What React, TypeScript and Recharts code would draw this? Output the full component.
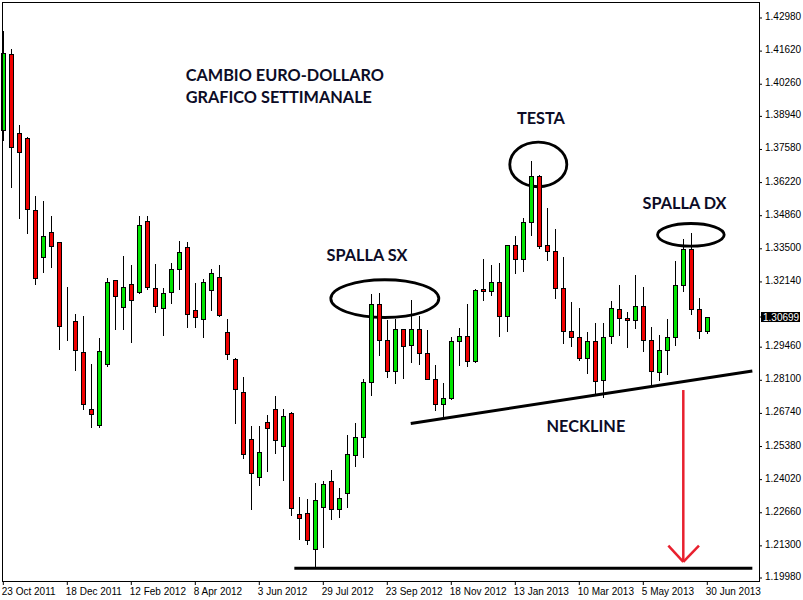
import { Bar, ComposedChart, ReferenceArea, ReferenceDot, ReferenceLine, XAxis, YAxis } from "recharts";

// weekly EUR/USD candles, 23 Oct 2011 -> 30 Jun 2013
const open = [
  1.3838, 1.415, 1.3826, 1.3805, 1.3509, 1.3316, 1.3419, 1.3378, 1.3037, 1.3054,
  1.2926, 1.2692, 1.2626, 1.2877, 1.3222, 1.3111, 1.3205, 1.3173, 1.3464, 1.3189,
  1.3107, 1.3173, 1.3267, 1.3357, 1.3099, 1.3062, 1.3181, 1.3234, 1.3008, 1.2897,
  1.2762, 1.2569, 1.2413, 1.2639, 1.2692, 1.254, 1.2676, 1.2261, 1.2265, 1.2117,
  1.229, 1.2396, 1.2281, 1.2347, 1.2503, 1.2577, 1.2803, 1.3123, 1.2976, 1.2848,
  1.3021, 1.2955, 1.3021, 1.2922, 1.2815, 1.2713, 1.2737, 1.2971, 1.2992, 1.2889,
  1.3185, 1.3177, 1.3214, 1.3074, 1.3366, 1.3308, 1.346, 1.3649, 1.3366, 1.3341,
  1.3189, 1.3012, 1.2988, 1.2902, 1.2971, 1.2811, 1.2992, 1.3103, 1.3066, 1.3058,
  1.3115, 1.2976, 1.2844, 1.2934, 1.2988, 1.3201, 1.3349, 1.3103, 1.3012,
];
const high = [
  1.4245, 1.4171, 1.3859, 1.3809, 1.3567, 1.3546, 1.3485, 1.3378, 1.3193, 1.3082,
  1.3074, 1.2877, 1.2984, 1.323, 1.3222, 1.3321, 1.3284, 1.3485, 1.3485, 1.3288,
  1.3189, 1.3292, 1.3382, 1.3378, 1.321, 1.3226, 1.3267, 1.3284, 1.3062, 1.2902,
  1.2824, 1.2622, 1.2622, 1.2668, 1.2746, 1.2692, 1.268, 1.2331, 1.2322, 1.2388,
  1.2396, 1.2442, 1.2368, 1.2585, 1.2635, 1.2815, 1.3164, 1.3169, 1.3058, 1.3062,
  1.3021, 1.314, 1.3074, 1.3017, 1.2873, 1.2799, 1.2988, 1.3025, 1.3123, 1.3185,
  1.3308, 1.3284, 1.3292, 1.3366, 1.3403, 1.3477, 1.3711, 1.3653, 1.3518, 1.3431,
  1.3316, 1.3132, 1.3107, 1.3008, 1.3045, 1.3045, 1.3136, 1.3201, 1.3091, 1.3243,
  1.3193, 1.3029, 1.2996, 1.3062, 1.33, 1.339, 1.3415, 1.3148, 1.307,
];
const low = [
  1.3797, 1.3604, 1.3477, 1.3415, 1.3205, 1.3255, 1.3275, 1.2939, 1.2976, 1.2852,
  1.2692, 1.2618, 1.2618, 1.2869, 1.3021, 1.3021, 1.2967, 1.3169, 1.3185, 1.3091,
  1.2996, 1.3128, 1.3185, 1.3029, 1.3029, 1.2988, 1.3099, 1.3074, 1.2897, 1.2635,
  1.2491, 1.2281, 1.238, 1.2438, 1.2511, 1.2401, 1.2257, 1.2158, 1.2138, 1.2043,
  1.2125, 1.224, 1.2249, 1.229, 1.2458, 1.2495, 1.275, 1.2914, 1.2824, 1.2799,
  1.2819, 1.2885, 1.2877, 1.2815, 1.2688, 1.2659, 1.2733, 1.2873, 1.2869, 1.2885,
  1.314, 1.316, 1.2992, 1.3012, 1.3251, 1.3259, 1.3407, 1.3353, 1.3304, 1.3148,
  1.2963, 1.2951, 1.2893, 1.284, 1.2754, 1.2741, 1.2963, 1.2996, 1.2947, 1.3025,
  1.293, 1.2787, 1.2811, 1.2836, 1.2955, 1.3177, 1.3082, 1.2984, 1.3004,
];
const close = [
  1.4154, 1.3768, 1.3748, 1.3514, 1.323, 1.3403, 1.3362, 1.3033, 1.3037, 1.2934,
  1.2713, 1.2672, 1.293, 1.3214, 1.3156, 1.3193, 1.314, 1.3448, 1.3193, 1.3115,
  1.3169, 1.3267, 1.3337, 1.3082, 1.307, 1.3214, 1.3251, 1.3078, 1.2918, 1.2774,
  1.2507, 1.2429, 1.2516, 1.2614, 1.2565, 1.2663, 1.2286, 1.2244, 1.2154, 1.2318,
  1.2384, 1.2281, 1.2327, 1.2507, 1.2577, 1.2803, 1.3123, 1.2976, 1.2848, 1.3021,
  1.2951, 1.3021, 1.2922, 1.2815, 1.2713, 1.2737, 1.2971, 1.2992, 1.2889, 1.3181,
  1.3177, 1.3214, 1.3074, 1.3366, 1.3308, 1.346, 1.3649, 1.3362, 1.3341, 1.3189,
  1.3012, 1.2988, 1.2902, 1.2971, 1.2807, 1.2988, 1.3107, 1.3066, 1.3058, 1.3115,
  1.2976, 1.2848, 1.2934, 1.2988, 1.3201, 1.3349, 1.3103, 1.3012, 1.30699,
];

const xTickLabels = [
  "23 Oct 2011", "18 Dec 2011", "12 Feb 2012", "8 Apr 2012", "3 Jun 2012", "29 Jul 2012",
  "23 Sep 2012", "18 Nov 2012", "13 Jan 2013", "10 Mar 2013", "5 May 2013", "30 Jun 2013",
];
const yTicks = [
  1.4298, 1.4162, 1.4026, 1.3894, 1.3758, 1.3622, 1.3486, 1.335, 1.3214, 1.30699,
  1.2946, 1.281, 1.2674, 1.2538, 1.2402, 1.2266, 1.213, 1.1998,
];
const lastPrice = 1.30699;

// annotations, in (week index, price)
const notes = [
  { text: "CAMBIO EURO-DOLLARO", x: 22.8, y: 1.4041 },
  { text: "GRAFICO SETTIMANALE", x: 22.8, y: 1.3949 },
  { text: "TESTA", x: 64.2, y: 1.3861 },
  { text: "SPALLA SX", x: 40.4, y: 1.3298 },
  { text: "SPALLA DX", x: 79.9, y: 1.3512 },
  { text: "NECKLINE", x: 67.9, y: 1.2596 },
];
const circles = [
  { x1: 40.94, x2: 54.44, y1: 1.3068, y2: 1.3223 },
  { x1: 63.31, x2: 70.44, y1: 1.3605, y2: 1.3788 },
  { x1: 81.78, x2: 90.11, y1: 1.3361, y2: 1.3454 },
];
const neckline = [{ x: 50.93, y: 1.2633 }, { x: 93.63, y: 1.2848 }];
const support = [{ x: 36.38, y: 1.2038 }, { x: 93.63, y: 1.2038 }];
const arrowTop = { x: 85, y: 1.277 };
const arrowTip = { x: 85, y: 1.2064 };
const arrowWings = [{ x: 83.13, y: 1.2131 }, { x: 86.96, y: 1.2131 }];

const data = open.map((o, i) => ({ i, o, h: high[i], l: low[i], c: close[i], range: [low[i], high[i]] }));

const UP = "#00e400";
const DOWN = "#f00000";
const INK = "#0c0c26";
const ARROW = "#e8202e";

function Candle(props: any) {
  const { x, y, width, height, payload } = props;
  const { o, h, l, c } = payload;
  const top = Math.min(y, y + height);
  const hgt = Math.abs(height);
  const py = (p: number) => top + ((h - p) / (h - l)) * hgt;
  const cx = Math.floor(x + width / 2) + 0.5;
  const b1 = Math.round(py(Math.max(o, c))) + 0.5;
  const b2 = Math.round(py(Math.min(o, c))) + 0.5;
  const fill = c > o ? UP : c < o ? DOWN : "#000";
  return (
    <g>
      <line x1={cx} x2={cx} y1={Math.round(py(h))} y2={Math.round(py(l)) + 1} stroke="#000" strokeWidth={1} />
      <rect x={cx - 2} y={b1} width={4} height={b2 - b1} fill={fill} stroke="#000" strokeWidth={1} />
    </g>
  );
}

function XTick({ x, y, payload }: any) {
  return (
    <text x={x - 1.5} y={y + 8} fontSize={10} fontFamily="Liberation Sans" fill="#000" textAnchor="start">
      {xTickLabels[payload.value / 8]}
    </text>
  );
}

function YTick({ x, y, payload }: any) {
  const v = payload.value;
  if (v === lastPrice) {
    return (
      <g>
        <rect x={x - 3} y={y - 5} width={39} height={10} fill="#000" />
        <text x={x - 1} y={y + 3.5} fontSize={10} fontFamily="Liberation Sans" fill="#fff" textAnchor="start">
          {v.toFixed(5)}
        </text>
      </g>
    );
  }
  return (
    <text x={x + 1} y={y + 2} fontSize={10} fontFamily="Liberation Sans" fill="#000" textAnchor="start">
      {v.toFixed(5)}
    </text>
  );
}

export default function App() {
  return (
    <div style={{ position: "absolute", left: 0, top: 0, width: 803, height: 600, background: "#fff" }}>
      <ComposedChart width={803} height={600} data={data} margin={{ top: 2, right: 0, bottom: 1, left: -0.7 }} barCategoryGap={0} barGap={0}>
        <XAxis dataKey="i" type="category" interval={7} height={18} tickSize={4} tickMargin={2} axisLine={false} tickLine={{ stroke: "#000" }} tick={<XTick />} padding={{ left: 0, right: 47.7 }} />
        <XAxis xAxisId="n" dataKey="i" type="number" hide domain={[-0.5, 94.4625]} allowDataOverflow />
        <YAxis orientation="right" width={44} domain={[1.19857, 1.43637]} allowDataOverflow ticks={yTicks} interval={0} tickSize={3} tickMargin={2} axisLine={false} tickLine={{ stroke: "#000" }} tick={<YTick />} />
        <Bar dataKey="range" shape={<Candle />} isAnimationActive={false} />
        {circles.map((e, k) => (
          <ReferenceArea key={k} xAxisId="n" x1={e.x1} x2={e.x2} y1={e.y1} y2={e.y2}
            shape={(p: any) => (
              <ellipse cx={p.x + p.width / 2} cy={p.y + p.height / 2} rx={Math.abs(p.width) / 2} ry={Math.abs(p.height) / 2} fill="none" stroke="#000" strokeWidth={2.8} />
            )} />
        ))}
        <ReferenceLine xAxisId="n" segment={neckline} stroke="#000" strokeWidth={3} />
        <ReferenceLine xAxisId="n" segment={support} stroke="#000" strokeWidth={3} />
        <ReferenceLine xAxisId="n" segment={[arrowTop, arrowTip]} stroke={ARROW} strokeWidth={2.5} />
        {arrowWings.map((w, k) => (
          <ReferenceLine key={k} xAxisId="n" segment={[w, arrowTip]} stroke={ARROW} strokeWidth={2.5} />
        ))}
        {notes.map((n, k) => (
          <ReferenceDot key={k} xAxisId="n" x={n.x} y={n.y} r={1}
            shape={(p: any) => (
              <text x={p.cx} y={p.cy} fontSize={16.3} fontWeight={700} fontFamily="Lato" fill={INK} textAnchor="start">
                {n.text}
              </text>
            )} />
        ))}
      </ComposedChart>
      <div style={{ position: "absolute", left: 2, top: 2, width: 758, height: 580, border: "1px solid #000", boxSizing: "border-box", pointerEvents: "none" }} />
    </div>
  );
}
